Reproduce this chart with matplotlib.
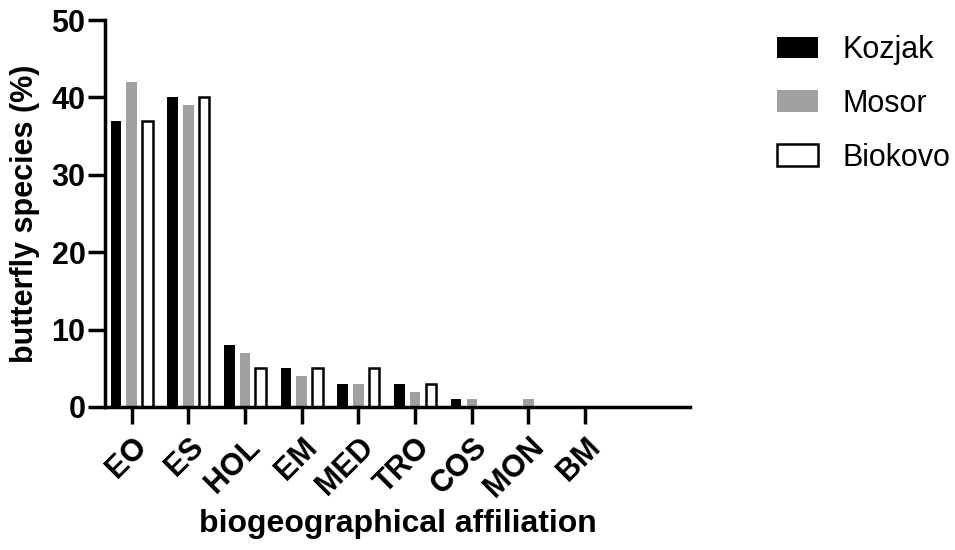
import numpy as np
import matplotlib
import matplotlib.pyplot as plt

matplotlib.use('agg')

categories = ["EO", "ES", "HOL", "EM", "MED", "TRO", "COS", "MON", "BM"]
kozjak = [37, 40, 8, 5, 3, 3, 1, 0, 0]
mosor = [42, 39, 7, 4, 3, 2, 1, 1, 0]
biokovo = [37, 40, 5, 5, 5, 3, 0, 0, 0]

plt.rcParams['font.family'] = ['Liberation Sans', 'DejaVu Sans']

fig = plt.figure(figsize=[9.55, 5.5], dpi=100)
ax = fig.add_axes([105/955, 1-407/550, (690-105)/955, (407-20)/550])

x = np.arange(len(categories))
w = 0.185
step = 0.277
ax.bar(x-step, kozjak, w, color='black', label='Kozjak')
ax.bar(x, mosor, w, color='#a0a0a2', label='Mosor')
ax.bar(x+step, biokovo, w, color='white', edgecolor='black', linewidth=1.8, label='Biokovo')

ax.set_xlim(-0.47, 9.85)
ax.set_ylim(0, 50)
ax.set_yticks([0, 10, 20, 30, 40, 50])
ax.set_xticks(x)
ax.set_xticklabels(categories, rotation=45, ha='right', rotation_mode='anchor',
                   fontsize=22, fontweight='bold')
for lab in ax.get_yticklabels():
    lab.set_fontsize(22)
    lab.set_fontweight('bold')

for s in ['top', 'right']:
    ax.spines[s].set_visible(False)
for s in ['left', 'bottom']:
    ax.spines[s].set_linewidth(2.5)
ax.tick_params(axis='both', width=2.5, length=12)
ax.tick_params(axis='y', pad=2)
ax.tick_params(axis='x', pad=6)

ax.set_ylabel("butterfly species (%)", fontsize=22, fontweight='bold', labelpad=8)
ax.set_xlabel("biogeographical affiliation", fontsize=23, fontweight='bold', labelpad=4)

leg = ax.legend(loc='upper left', bbox_to_anchor=(777/955, 1-35/550),
                bbox_transform=fig.transFigure, frameon=False, fontsize=22,
                borderpad=0, borderaxespad=0,
                handlelength=1.35, handleheight=0.7, labelspacing=0.78, handletextpad=0.8)

plt.savefig("out.png")
plt.close()
